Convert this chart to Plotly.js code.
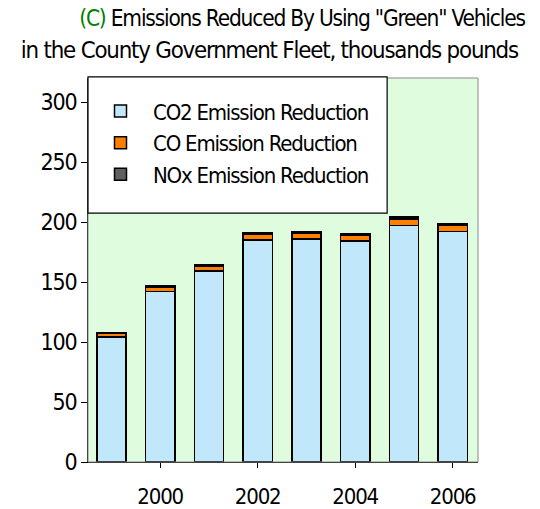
<!DOCTYPE html>
<html>
<head>
<meta charset="utf-8">
<script src="https://cdn.plot.ly/plotly-3.0.1.min.js"></script>
<style>html,body{margin:0;padding:0;background:#fff;}#chart{width:540px;height:509px;}
#chart text{letter-spacing:-1.2px;}</style>
</head>
<body>
<div id="chart"></div>
<script>
const years = [1999, 2000, 2001, 2002, 2003, 2004, 2005, 2006];
const co2Reduction = [104, 142, 159, 185, 186, 184, 197, 192];
const coReduction = [3, 4, 4.5, 4.5, 5, 5, 5.5, 5];
const noxReduction = [1, 1, 1, 1.2, 1.2, 1.2, 1.5, 1.3];
const seriesNames = ["CO2 Emission Reduction", "CO Emission Reduction", "NOx Emission Reduction"];
const xTicks = [2000, 2002, 2004, 2006];
const yTicks = [0, 50, 100, 150, 200, 250, 300];
const titleLines = ["<span style='color:#008000'>(C)</span> Emissions Reduced By Using \"Green\" Vehicles", "in the County Government Fleet, thousands pounds"];

const FONT = "'DejaVu Sans Condensed', 'Liberation Sans Narrow', 'Liberation Sans', Arial, sans-serif";
const line = {color: "#000", width: 1.5};
const traces = [
  {type: "bar", x: years, y: co2Reduction, name: seriesNames[0], marker: {color: "#C0E8FA", line: line}, width: 0.6, legendgroup: "a"},
  {type: "bar", x: years, y: coReduction, name: seriesNames[1], marker: {color: "#FF8000", line: line}, width: 0.6, legendgroup: "b"},
  {type: "bar", x: years, y: noxReduction, name: seriesNames[2], marker: {color: "#606060", line: line}, width: 0.6, legendgroup: "c"}
];
const layout = {
  width: 540, height: 509,
  margin: {l: 88, r: 62, t: 78, b: 47},
  paper_bgcolor: "#fff",
  plot_bgcolor: "#DFFCDF",
  barmode: "stack",
  font: {family: FONT, color: "#000", size: 20},
  annotations: [
    {text: titleLines[0], xref: "paper", yref: "paper", x: 0.548, y: 1.156, xanchor: "center", yanchor: "middle", showarrow: false, font: {family: FONT, size: 22.5}},
    {text: titleLines[1], xref: "paper", yref: "paper", x: 0.465, y: 1.073, xanchor: "center", yanchor: "middle", showarrow: false, font: {family: FONT, size: 23.8}}
  ],
  xaxis: {
    range: [1998.52, 2006.52],
    tickvals: xTicks, ticktext: xTicks.map(String),
    ticks: "outside", ticklen: 5, tickcolor: "#000",
    showline: true, linecolor: "#000", linewidth: 1,
    showgrid: false, zeroline: false, mirror: false,
    ticklabelstandoff: 10,
    tickfont: {family: FONT, size: 22}
  },
  yaxis: {
    range: [0, 320],
    tickvals: yTicks,
    ticks: "outside", ticklen: 6, tickcolor: "#000",
    showline: true, linecolor: "#000", linewidth: 1,
    showgrid: false, zeroline: false,
    tickfont: {family: FONT, size: 23}
  },
  shapes: [
    {type: "rect", xref: "paper", yref: "paper", x0: 0, x1: 1, y0: 0, y1: 1, line: {color: "#888", width: 1}, fillcolor: "rgba(0,0,0,0)", layer: "above"},
    {type: "rect", xref: "paper", yref: "paper", x0: 0, x1: 0.767, y0: 0.648, y1: 1.003, line: {color: "#000", width: 1.2}, fillcolor: "#fff", layer: "above"}
  ],
  legend: {
    x: 0.0, y: 0.968, xanchor: "left", yanchor: "top",
    bgcolor: "rgba(0,0,0,0)", borderwidth: 0,
    traceorder: "normal", tracegroupgap: 4, itemwidth: 55,
    font: {family: FONT, size: 22}
  },
  showlegend: true
};
Plotly.newPlot("chart", traces, layout, {displayModeBar: false, staticPlot: true});
</script>
</body>
</html>
